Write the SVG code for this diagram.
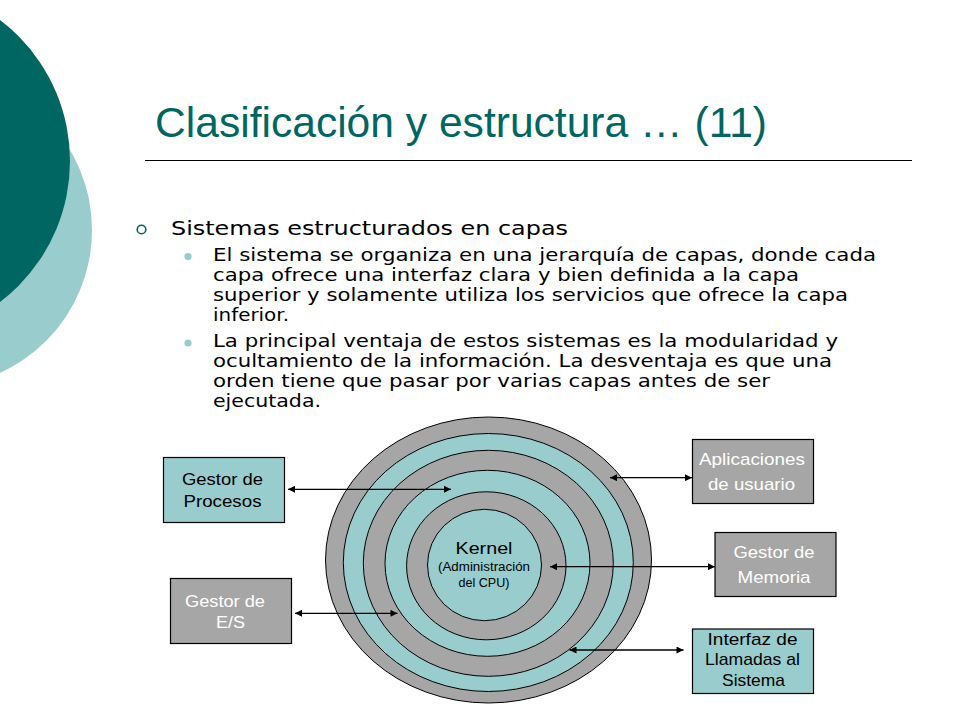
<svg xmlns="http://www.w3.org/2000/svg" width="960" height="720" viewBox="0 0 960 720">
  <defs>
    <marker id="ah" viewBox="0 0 10 10" refX="10" refY="5" markerWidth="9" markerHeight="7" markerUnits="userSpaceOnUse" orient="auto-start-reverse">
      <path d="M0,0 L10,5 L0,10 z" fill="#000"/>
    </marker>
    <style>
      .body { font-family: "DejaVu Sans", Verdana, sans-serif; font-size: 18px; fill: #000; }
      .body-lg { font-size: 20px; }
      .box-teal { fill: #99CCCC; stroke: #000; stroke-width: 1.2; }
      .box-gray { fill: #A6A6A6; stroke: #000; stroke-width: 1.2; }
      .lbl { font-family: "Liberation Sans", Arial, sans-serif; font-size: 17px; text-anchor: middle; }
      .lbl-kernel { font-size: 17px; }
      .lbl-small { font-size: 12px; }
      .lbl-dark { fill: #000; }
      .lbl-light { fill: #FFFFFF; }
      .ring-gray { fill: #A6A6A6; stroke: #000; stroke-width: 1; }
      .ring-teal { fill: #99CCCC; stroke: #000; stroke-width: 1; }
      .conn { stroke: #000; stroke-width: 1.3; fill: none; marker-start: url(#ah); marker-end: url(#ah); }
    </style>
  </defs>

  <rect x="0" y="0" width="960" height="720" fill="#FFFFFF"/>

  <!-- decorative circles -->
  <g id="decor">
    <circle cx="-65" cy="230" r="157" fill="#99CCCC"/>
    <circle cx="-107" cy="161" r="177" fill="#006662"/>
  </g>

  <!-- title -->
  <g id="title">
    <text x="155" y="137" font-family="'Liberation Sans', Arial, sans-serif" font-size="42" fill="#006662" textLength="612" lengthAdjust="spacingAndGlyphs">Clasificación y estructura … (11)</text>
    <line x1="145" y1="160.5" x2="912" y2="160.5" stroke="#000" stroke-width="1.2"/>
  </g>

  <!-- bullet text -->
  <g id="bullets">
    <circle cx="141.5" cy="229.5" r="4.3" fill="none" stroke="#006662" stroke-width="1.6"/>
    <text class="body body-lg" x="171" y="235" textLength="397" lengthAdjust="spacingAndGlyphs">Sistemas estructurados en capas</text>
    <circle cx="188" cy="256.5" r="3.6" fill="#99CCCC"/>
    <text class="body" x="213" y="260.5" textLength="663" lengthAdjust="spacingAndGlyphs">El sistema se organiza en una jerarquía de capas, donde cada</text>
    <text class="body" x="213" y="280.5" textLength="586" lengthAdjust="spacingAndGlyphs">capa ofrece una interfaz clara y bien definida a la capa</text>
    <text class="body" x="213" y="300.5" textLength="635" lengthAdjust="spacingAndGlyphs">superior y solamente utiliza los servicios que ofrece la capa</text>
    <text class="body" x="213" y="320.5" textLength="76" lengthAdjust="spacingAndGlyphs">inferior.</text>
    <circle cx="188" cy="343" r="3.6" fill="#99CCCC"/>
    <text class="body" x="213" y="347" textLength="625" lengthAdjust="spacingAndGlyphs">La principal ventaja de estos sistemas es la modularidad y</text>
    <text class="body" x="213" y="367" textLength="619" lengthAdjust="spacingAndGlyphs">ocultamiento de la información. La desventaja es que una</text>
    <text class="body" x="213" y="387" textLength="557" lengthAdjust="spacingAndGlyphs">orden tiene que pasar por varias capas antes de ser</text>
    <text class="body" x="213" y="407" textLength="108" lengthAdjust="spacingAndGlyphs">ejecutada.</text>
  </g>

  <!-- layered rings -->
  <g id="layers">
    <ellipse class="ring-gray" cx="488.5" cy="560" rx="163" ry="143"/>
    <ellipse class="ring-teal" cx="488.3" cy="562.5" rx="145" ry="129"/>
    <ellipse class="ring-gray" cx="488.3" cy="563.3" rx="125" ry="113"/>
    <ellipse class="ring-teal" cx="487.5" cy="563.3" rx="102.5" ry="93"/>
    <ellipse class="ring-gray" cx="486.3" cy="565.8" rx="79.7" ry="74"/>
  </g>

  <g id="kernel">
    <ellipse class="ring-teal" cx="484.5" cy="565" rx="57" ry="55.7"/>
    <text class="lbl lbl-kernel lbl-dark" x="484" y="554" textLength="57" lengthAdjust="spacingAndGlyphs">Kernel</text>
    <text class="lbl lbl-small lbl-dark" x="484" y="570.5" textLength="92" lengthAdjust="spacingAndGlyphs">(Administración</text>
    <text class="lbl lbl-small lbl-dark" x="484" y="587" textLength="51" lengthAdjust="spacingAndGlyphs">del CPU)</text>
  </g>

  <!-- connectors -->
  <g id="connectors">
    <line class="conn" x1="288" y1="489.3" x2="451" y2="489.3"/>
    <line class="conn" x1="295" y1="613.3" x2="397.5" y2="613.3"/>
    <line class="conn" x1="610" y1="477.7" x2="692" y2="477.7"/>
    <line class="conn" x1="550" y1="566.7" x2="715" y2="566.7"/>
    <line class="conn" x1="569.5" y1="650" x2="683.5" y2="650"/>
  </g>

  <!-- boxes -->
  <g id="gestor-procesos">
    <rect class="box-teal" x="163.5" y="457.5" width="121" height="65"/>
    <text class="lbl lbl-dark" x="222.5" y="485" textLength="81" lengthAdjust="spacingAndGlyphs">Gestor de</text>
    <text class="lbl lbl-dark" x="222.5" y="506.5" textLength="78" lengthAdjust="spacingAndGlyphs">Procesos</text>
  </g>

  <g id="gestor-es">
    <rect class="box-gray" x="170.5" y="578.5" width="121" height="65"/>
    <text class="lbl lbl-light" x="225" y="606.5" textLength="80" lengthAdjust="spacingAndGlyphs">Gestor de</text>
    <text class="lbl lbl-light" x="230.5" y="628" textLength="29" lengthAdjust="spacingAndGlyphs">E/S</text>
  </g>

  <g id="aplicaciones">
    <rect class="box-gray" x="692.5" y="439.5" width="121" height="64"/>
    <text class="lbl lbl-light" x="752" y="465" textLength="106" lengthAdjust="spacingAndGlyphs">Aplicaciones</text>
    <text class="lbl lbl-light" x="751.5" y="490" textLength="87" lengthAdjust="spacingAndGlyphs">de usuario</text>
  </g>

  <g id="gestor-memoria">
    <rect class="box-gray" x="715" y="532.5" width="121" height="64"/>
    <text class="lbl lbl-light" x="774" y="558" textLength="81" lengthAdjust="spacingAndGlyphs">Gestor de</text>
    <text class="lbl lbl-light" x="774" y="583" textLength="73" lengthAdjust="spacingAndGlyphs">Memoria</text>
  </g>

  <g id="interfaz-llamadas">
    <rect class="box-teal" x="692.5" y="629" width="121" height="64.5"/>
    <text class="lbl lbl-dark" x="752.5" y="645" textLength="90" lengthAdjust="spacingAndGlyphs">Interfaz de</text>
    <text class="lbl lbl-dark" x="752.5" y="665" textLength="95" lengthAdjust="spacingAndGlyphs">Llamadas al</text>
    <text class="lbl lbl-dark" x="753.5" y="686" textLength="63" lengthAdjust="spacingAndGlyphs">Sistema</text>
  </g>
</svg>
